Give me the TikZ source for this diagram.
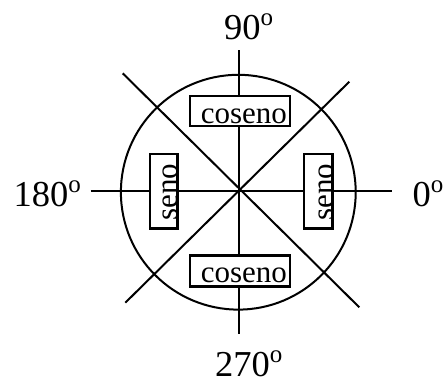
\documentclass[tikz,border=0pt]{standalone}
\usepackage{fontspec}
\setmainfont{Liberation Serif}
\newcommand{\degsup}{\raisebox{14pt}{\fontsize{25}{25}\selectfont o}}
\tikzset{
  axisline/.style={line width=2pt},
  boxframe/.style={draw, line width=2.8pt, inner sep=0pt},
  boxtext/.style={inner sep=0pt, font=\fontsize{31}{31}\selectfont},
  anglelbl/.style={inner sep=0pt, anchor=base west, font=\fontsize{36.5}{36.5}\selectfont},
}
\begin{document}
\begin{tikzpicture}[x=1pt,y=-1pt]
\useasboundingbox (0,0) rectangle (444,381);
% axes
\coordinate (vtop) at (239.3,50);
\coordinate (vbot) at (239.3,334);
\coordinate (hleft) at (90.7,190.7);
\coordinate (hright) at (391.7,190.7);
\coordinate (d1a) at (122.7,73.3);
\coordinate (d1b) at (359.3,307.3);
\coordinate (d2a) at (349.3,81.7);
\coordinate (d2b) at (125.3,302.7);
\draw[axisline] (vtop) -- (vbot);
\draw[axisline] (hleft) -- (hright);
\draw[axisline] (d1a) -- (d1b);
\draw[axisline] (d2a) -- (d2b);
\node[draw, circle, line width=2pt, minimum size=234.8pt, inner sep=0pt] (ring) at (238.3,192.2) {};
% boxes
\node[boxframe, fill=white, minimum width=100pt, minimum height=30pt] (topbox) at (240,111) {};
\node[boxframe, fill=white, minimum width=100pt, minimum height=31pt] (botbox) at (240,270.7) {};
\node[boxframe, fill=white, minimum width=27.7pt, minimum height=74.3pt] (leftbox) at (163.8,191.2) {};
\node[boxframe, fill=white, minimum width=28.7pt, minimum height=74.3pt] (rightbox) at (318.3,191.2) {};
% box texts
\node[boxtext, anchor=base west] (toptext) at (200.7,123.5) {coseno};
\node[boxtext, anchor=base west] (bottext) at (200.7,282.7) {coseno};
\node[boxtext, anchor=base, rotate=90] (lefttext) at (177.5,192) {seno};
\node[boxtext, anchor=base, rotate=90] (righttext) at (333,192) {seno};
% angle labels
\node[anglelbl] (l90) at (224,39) {90\degsup};
\node[anglelbl] (l180) at (13.3,206.5) {180\degsup};
\node[anglelbl] (l0) at (412.5,206.5) {0\degsup};
\node[anglelbl] (l270) at (215,376.5) {270\degsup};
\end{tikzpicture}
\end{document}
